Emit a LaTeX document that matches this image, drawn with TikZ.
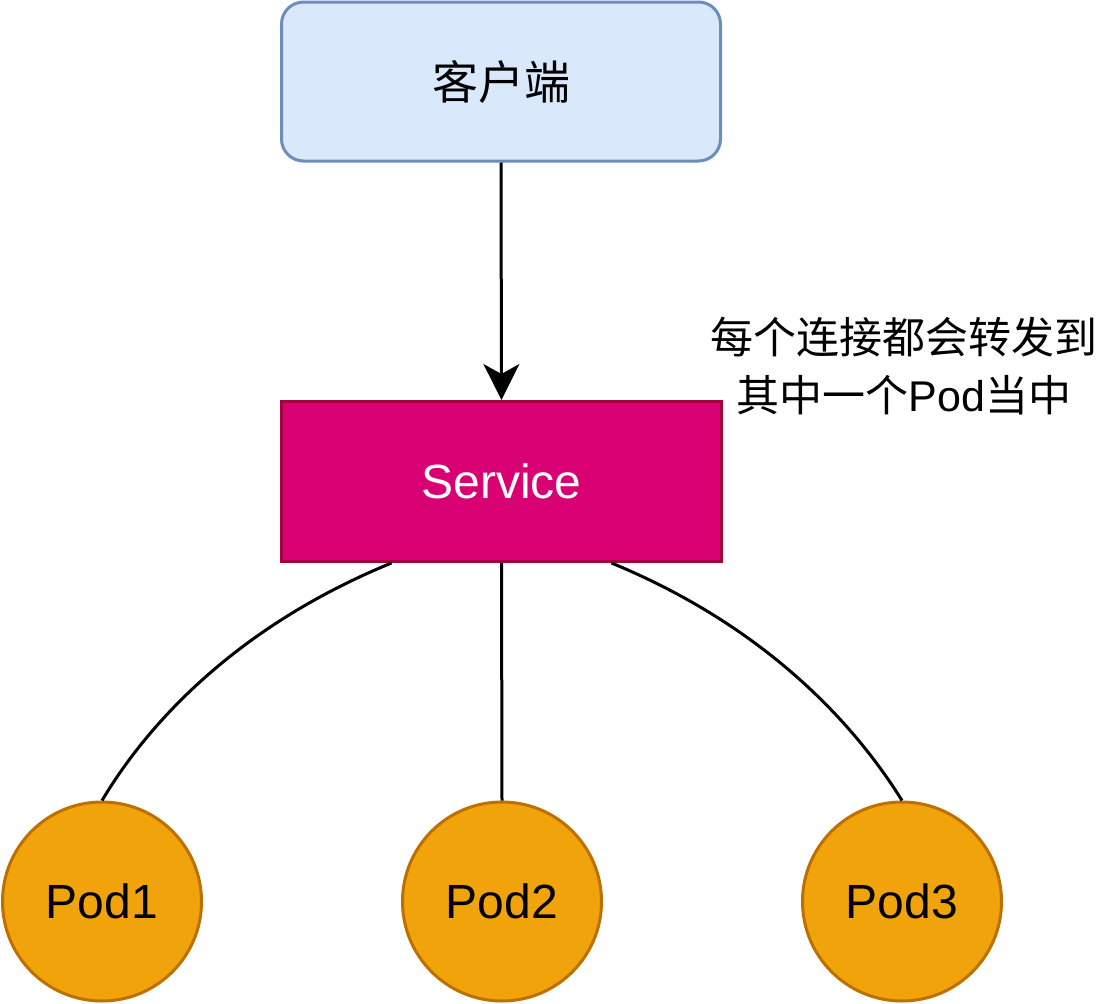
\documentclass[tikz,border=0pt]{standalone}
\usepackage{fontspec}
\setmainfont{Liberation Sans}
\newfontfamily\cjk{Noto Sans CJK SC}
\usetikzlibrary{arrows.meta}
\definecolor{clientfill}{HTML}{DAE8FC}
\definecolor{clientdraw}{HTML}{6C8EBF}
\definecolor{svcfill}{HTML}{D80073}
\definecolor{svcdraw}{HTML}{A50040}
\definecolor{podfill}{HTML}{F0A30A}
\definecolor{poddraw}{HTML}{BD7000}
\tikzset{
  x=1pt, y=-1pt,
  clientbox/.style={draw=clientdraw, fill=clientfill, line width=3pt, rounded corners=22pt,
    minimum width=439pt, minimum height=159pt, inner sep=0pt, font=\cjk\fontsize{46}{50}\selectfont},
  svcbox/.style={draw=svcdraw, fill=svcfill, line width=3pt,
    minimum width=440pt, minimum height=160pt, inner sep=0pt, text=white, font=\fontsize{48}{52}\selectfont},
  podnode/.style={circle, draw=poddraw, fill=podfill, line width=3pt, minimum size=199pt, inner sep=0pt,
    font=\fontsize{48}{52}\selectfont},
  conn/.style={line width=3pt, black},
  note/.style={align=center, font=\fontsize{43}{58}\selectfont, inner sep=0pt}
}
\begin{document}
\begin{tikzpicture}
\useasboundingbox (0,0) rectangle (1104,1004);
\node[clientbox] (client) at (501,81.5) {客户端};
\node[svcbox] (svc) at (501.5,481.5) {Service};
\node[podnode] (p1) at (102,901.5) {Pod1};
\node[podnode] (p2) at (502,901.5) {Pod2};
\node[podnode] (p3) at (902,901.5) {Pod3};
\node[note] (lbl) at (904,366) {{\cjk 每个连接都会转发到}\\{\cjk 其中一个}Pod{\cjk 当中}};
\draw[conn, -{Stealth[length=36pt, width=36pt, inset=10pt]}] (client.south) -- (svc.north);
\coordinate (s1) at ([xshift=-110pt]svc.south);
\coordinate (s3) at ([xshift=110pt]svc.south);
\draw[conn] (s1) .. controls (240,625) and (150,720) .. (p1.north);
\draw[conn] (svc.south) -- (p2.north);
\draw[conn] (s3) .. controls (762,625) and (852,720) .. (p3.north);
\end{tikzpicture}
\end{document}
